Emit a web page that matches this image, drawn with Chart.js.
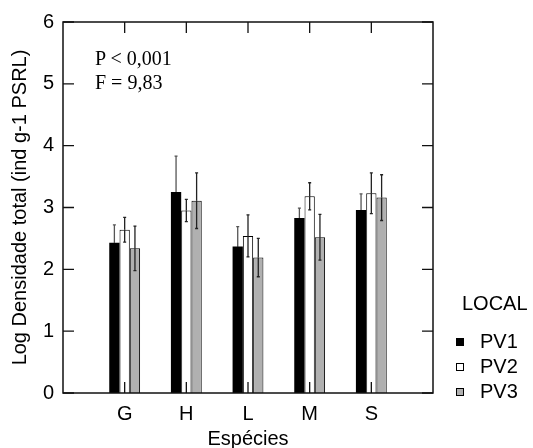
<!DOCTYPE html>
<html>
<head>
<meta charset="utf-8">
<script src="https://cdn.jsdelivr.net/npm/chart.js@4.4.0/dist/chart.umd.min.js"></script>
<style>
  html, body { margin: 0; padding: 0; background: #fff; }
  #wrap { position: relative; width: 533px; height: 448px; }
  #chart { position: absolute; left: 0; top: 0; }
  .note { position: absolute; left: 95px; font: 20px "Liberation Serif", "Times New Roman", serif; color: #000; line-height: 23px; }
  #legend { position: absolute; left: 456px; top: 292px; font: 20px "Liberation Sans", Arial, sans-serif; color: #000; }
  #legend .ttl { position: absolute; left: 6px; top: 0; }
  #legend .row { position: absolute; left: 0; white-space: nowrap; height: 22px; line-height: 22px; }
  #legend .sw { display: inline-block; width: 8px; height: 8px; border: 1px solid #000; margin-right: 16px; vertical-align: 2px; box-sizing: border-box; }
</style>
</head>
<body>
<div id="wrap">
  <canvas id="chart" width="533" height="448"></canvas>
  <div class="note" style="top:47px">P &lt; 0,001</div>
  <div class="note" style="top:71px">F = 9,83</div>
  <div id="legend"></div>
</div>
<script>
// Log densidade total por espécie e local

const categories = ['G', 'H', 'L', 'M', 'S'];
const seriesNames = ['PV1', 'PV2', 'PV3'];

const pv1 = [2.43, 3.25, 2.37, 2.83, 2.96];
const pv2 = [2.64, 2.95, 2.54, 3.18, 3.23];
const pv3 = [2.34, 3.11, 2.19, 2.52, 3.16];

const pv1Err = [0.29, 0.58, 0.32, 0.16, 0.26];
const pv2Err = [0.20, 0.18, 0.34, 0.22, 0.33];
const pv3Err = [0.36, 0.45, 0.31, 0.37, 0.37];

const yTicks = [0, 1, 2, 3, 4, 5, 6];

const fills = ['#000000', '#ffffff', '#b0b0b0'];
const errColors = ['#555555', '#222222', '#222222'];

// blank slot on each side so the categories sit at 1..5 of a 0..6 axis
const labels = [''].concat(categories, ['']);
const pad = arr => [null].concat(arr, [null]);

const values = [pv1, pv2, pv3];
const errors = [pv1Err, pv2Err, pv3Err];

const font = { family: '"Liberation Sans", Arial, sans-serif', size: 20 };

// error bars, frame and inward ticks
const extras = {
    id: 'extras',
    afterDatasetsDraw(chart) {
        const ctx = chart.ctx;
        const y = chart.scales.y;
        const x = chart.scales.x;
        const a = chart.chartArea;

        ctx.save();
        ctx.lineWidth = 1.3;
        values.forEach((vals, d) => {
            const meta = chart.getDatasetMeta(d);
            vals.forEach((v, i) => {
                const bar = meta.data[i + 1];
                if (!bar) return;
                const cx = bar.x;
                const yTop = y.getPixelForValue(v + errors[d][i]);
                const yMid = y.getPixelForValue(v);
                const yLow = y.getPixelForValue(v - errors[d][i]);
                ctx.strokeStyle = errColors[d];
                ctx.beginPath();
                ctx.moveTo(cx, yTop); ctx.lineTo(cx, yMid);
                ctx.moveTo(cx - 1.5, yTop); ctx.lineTo(cx + 1.5, yTop);
                ctx.stroke();
                ctx.strokeStyle = d === 0 ? '#000' : errColors[d];
                ctx.beginPath();
                ctx.moveTo(cx, yMid); ctx.lineTo(cx, yLow);
                if (d !== 0) { ctx.moveTo(cx - 1.5, yLow); ctx.lineTo(cx + 1.5, yLow); }
                ctx.stroke();
            });
        });

        ctx.strokeStyle = '#111';
        ctx.lineWidth = 1.5;
        ctx.strokeRect(a.left, a.top, a.right - a.left, a.bottom - a.top);

        const tl = 11;
        ctx.lineWidth = 1.3;
        ctx.beginPath();
        yTicks.forEach(t => {
            const py = y.getPixelForValue(t);
            ctx.moveTo(a.left, py); ctx.lineTo(a.left + tl, py);
            ctx.moveTo(a.right, py); ctx.lineTo(a.right - tl, py);
        });
        categories.forEach((c, i) => {
            const px = x.getPixelForValue(i + 1);
            ctx.moveTo(px, a.bottom); ctx.lineTo(px, a.bottom - tl);
            ctx.moveTo(px, a.top); ctx.lineTo(px, a.top + tl);
        });
        ctx.stroke();
        ctx.restore();
    }
};

const ctx = document.getElementById('chart').getContext('2d');

new Chart(ctx, {
    type: 'bar',
    data: {
        labels: labels,
        datasets: seriesNames.map((name, d) => ({
            label: name,
            data: pad(values[d]),
            backgroundColor: fills[d],
            borderColor: '#000',
            borderWidth: d === 0 ? 0 : 1,
            categoryPercentage: 0.5,
            barPercentage: 1
        }))
    },
    options: {
        responsive: false,
        animation: false,
        layout: { padding: { top: 22, right: 100, left: 0, bottom: 0 } },
        plugins: {
            legend: { display: false },
            tooltip: { enabled: false }
        },
        scales: {
            x: {
                offset: false,
                grid: { display: false, drawTicks: false },
                border: { display: false },
                ticks: { color: '#000', font: font, padding: 9, maxRotation: 0, autoSkip: false },
                title: { display: true, text: 'Espécies', color: '#000', font: { family: font.family, size: 20, lineHeight: 0.9 }, padding: { top: 0, bottom: 0 } },
                afterFit: s => { s.height = 55; }
            },
            y: {
                min: 0,
                max: 6,
                grid: { display: false, drawTicks: false },
                border: { display: false },
                ticks: { stepSize: 1, color: '#000', font: font, padding: 9 },
                title: { display: true, text: 'Log Densidade total (ind g-1 PSRL)', color: '#000', font: font, padding: { top: 8, bottom: 0 } },
                afterFit: s => { s.width = 63; }
            }
        }
    },
    plugins: [extras]
});

// legend
const legend = document.getElementById('legend');
legend.innerHTML = '<div class="ttl">LOCAL</div>' + seriesNames.map((n, d) =>
    '<div class="row" style="top:' + (38 + d * 25) + 'px"><span class="sw" style="background:' + fills[d] + '"></span>' + n + '</div>'
).join('');
</script>
</body>
</html>
